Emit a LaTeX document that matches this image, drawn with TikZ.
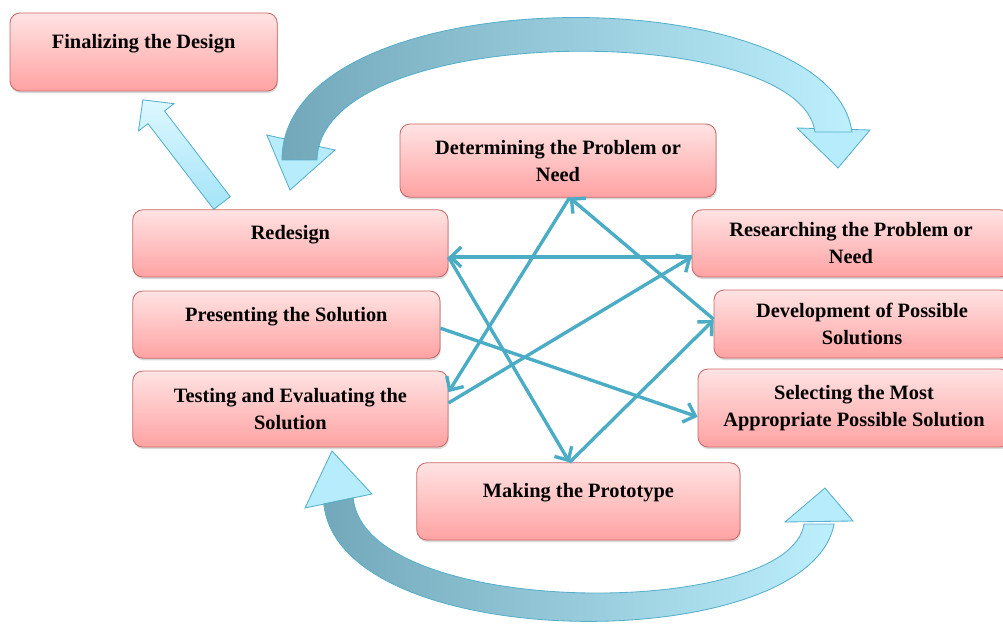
\documentclass[tikz,border=0pt]{standalone}
\usepackage{fontspec}
\setmainfont{Liberation Serif}
\usepackage{xcolor}
\usepackage{tikz}
\usetikzlibrary{arrows.meta,shadows}
\definecolor{BoxLine}{HTML}{C86868}
\definecolor{BoxTop}{HTML}{FFE3E3}
\definecolor{BoxBottom}{HTML}{FFA2A2}
\definecolor{LinkInk}{HTML}{4BACC6}
\definecolor{BandDark}{HTML}{72A8BA}
\definecolor{BandLight}{HTML}{BDEFFD}
\definecolor{BandEdge}{HTML}{56AFCB}
\definecolor{HeadFill}{HTML}{B6ECFB}
\definecolor{LiftTop}{HTML}{DDF8FF}
\definecolor{LiftBottom}{HTML}{A4E4F8}
\tikzset{
  figure/.style={font=\fontsize{14.5}{19.2}\selectfont\bfseries,text=black},
  stage/.style={draw=BoxLine,line width=0.6pt,rounded corners=2.5mm,top color=BoxTop,bottom color=BoxBottom,align=center,
    drop shadow={shadow xshift=0.6pt,shadow yshift=-1.5pt,opacity=0.3}},
  link/.style={-{Straight Barb[length=2.6mm,width=5mm]},line width=2.4pt,draw=LinkInk},
  band/.style={draw=BandEdge,line width=0.6pt,left color=BandDark,right color=BandLight},
  bandhead/.style={draw=BandEdge,line width=0.6pt,fill=HeadFill},
  lift/.style={draw=BandEdge,line width=0.6pt,top color=LiftTop,bottom color=LiftBottom},
}

\begin{document}
\begin{tikzpicture}[figure]
  \useasboundingbox (0,0) rectangle (25.075,15.575);

  % curved loop arrows, heads under the bands
  \draw[bandhead] (6.67,12.2) -- (8.375,11.825) -- (7.25,10.825) -- cycle;
  \draw[bandhead] (19.925,12.375) -- (21.75,12.325) -- (20.95,11.375) -- cycle;
  \draw[band] (7.05,11.575) .. controls (7.05,16.2) and (20.75,16.2) .. (21.3,12.275)
    -- (20.375,12.275) .. controls (20.0,15.075) and (8.0,15.075) .. (7.925,11.575) -- cycle;

  \draw[bandhead] (7.625,2.875) -- (8.3,4.3) -- (9.3,3.225) -- cycle;
  \draw[bandhead] (19.625,2.525) -- (20.625,3.375) -- (21.325,2.55) -- cycle;
  \draw[band] (8.095,2.975) .. controls (8.5,-0.85) and (20.25,-0.85) .. (20.85,2.475)
    -- (20.1,2.475) .. controls (19.75,0.075) and (9.125,0.075) .. (8.83,3.125) -- cycle;

  % straight arrow up to the final box
  \begin{scope}[shift={(5.55,10.5)},rotate=127.5]
    \draw[lift] (0,-0.26) -- (2.7,-0.26) -- (2.7,-0.56) -- (3.25,0) -- (2.7,0.56) -- (2.7,0.26) -- (0,0.26) -- cycle;
  \end{scope}

  \node[stage,minimum width=6.68cm,minimum height=1.95cm] (finalize) at (3.59,14.275)
    {Finalizing the Design\\[-10pt]\strut};
  \node[stage,minimum width=7.9cm,minimum height=1.83cm] (problem) at (13.95,11.56)
    {Determining the Problem or\\Need};
  \node[stage,minimum width=7.88cm,minimum height=1.68cm] (redesign) at (7.26,9.49)
    {Redesign\\[-10pt]\strut};
  \node[stage,minimum width=7.95cm,minimum height=1.68cm] (research) at (21.275,9.49)
    {Researching the Problem or\\Need};
  \node[stage,minimum width=7.68cm,minimum height=1.68cm] (present) at (7.16,7.46)
    {Presenting the Solution\\[-10pt]\strut};
  \node[stage,minimum width=7.4cm,minimum height=1.7cm] (develop) at (21.55,7.475)
    {Development of Possible\\Solutions};
  \node[stage,minimum width=7.88cm,minimum height=1.9cm] (testing) at (7.26,5.35)
    {Testing and Evaluating the\\Solution};
  \node[stage,minimum width=7.8cm,minimum height=1.95cm] (select) at (21.35,5.375)
    {Selecting the Most\\Appropriate Possible Solution};
  \node[stage,minimum width=8.08cm,minimum height=1.93cm] (prototype) at (14.46,3.04)
    {Making the Prototype\\[-10pt]\strut};

  \draw[link] ([yshift=-0.34cm]research.west) -- ([yshift=-0.34cm]redesign.east);
  \draw[link] ([yshift=-0.34cm]redesign.east) -- ([xshift=-0.22cm]prototype.north);
  \draw[link] ([xshift=-0.22cm]prototype.north) -- ([yshift=0.1cm]develop.west);
  \draw[link] ([yshift=0.12cm]develop.west) -- ([xshift=0.29cm]problem.south);
  \draw[link] ([xshift=0.29cm]problem.south) -- ([yshift=0.42cm]testing.east);
  \draw[link] ([yshift=0.15cm]testing.east) -- ([yshift=-0.34cm]research.west);
  \draw[link] ([yshift=-0.09cm]present.east) -- ([yshift=-0.22cm]select.west);
\end{tikzpicture}
\end{document}
